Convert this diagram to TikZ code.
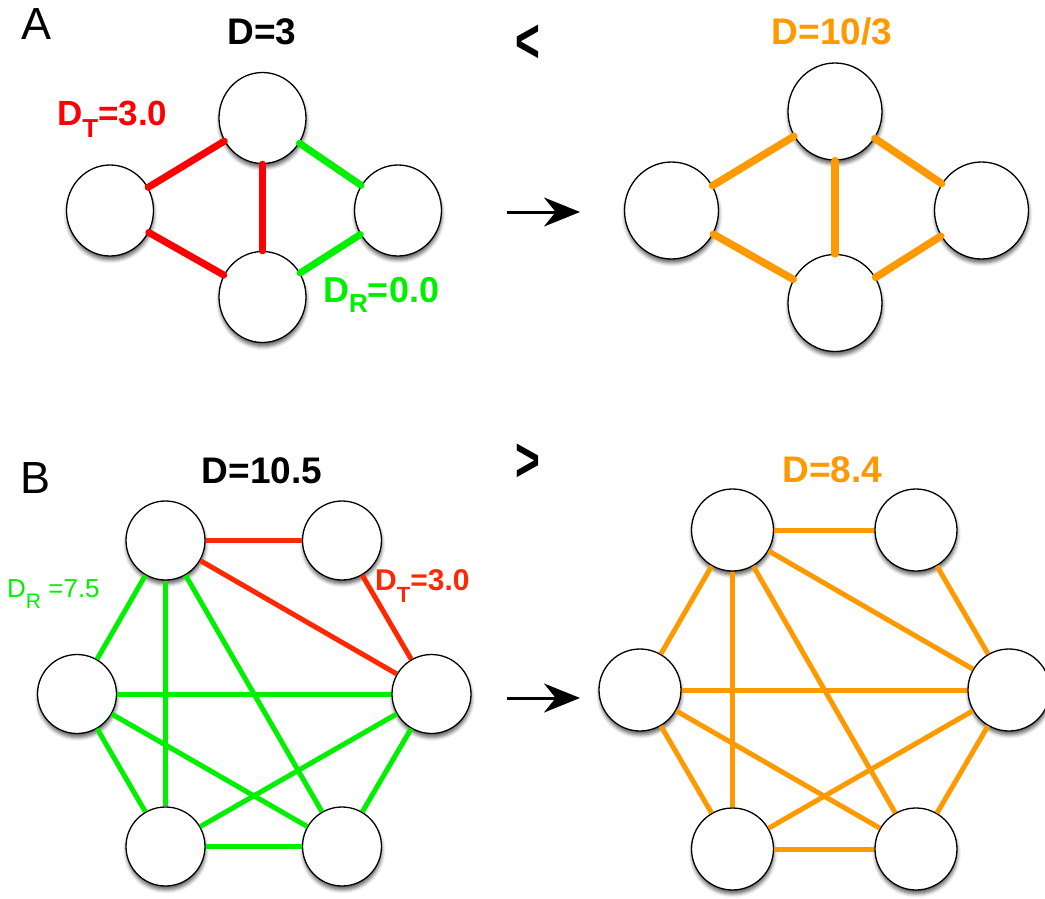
\documentclass[tikz,border=0pt]{standalone}
\usepackage{fontspec}
\setmainfont{Liberation Sans}
\usetikzlibrary{shadows.blur,arrows.meta,shapes.geometric}
\definecolor{ared}{HTML}{FF0000}
\definecolor{bred}{HTML}{FF2800}
\definecolor{lgreen}{HTML}{00F000}
\definecolor{gorange}{HTML}{FF9900}
\newcommand{\fsz}[1]{\fontsize{#1}{#1}\selectfont}
\newcommand{\subl}[3]{\raisebox{-#2pt}{\fsz{#3}#1}}
\begin{document}
\begin{tikzpicture}[x=1pt,y=-1pt,
  vert/.style={ellipse,draw=black,line width=1.3pt,fill=white,inner sep=0pt,
    blur shadow={shadow xshift=0.5pt,shadow yshift=-4pt,shadow blur radius=3.5pt,shadow opacity=60}},
  vertA/.style={vert,minimum width=87pt,minimum height=91pt},
  vertAr/.style={vert,minimum width=94pt,minimum height=97pt},
  vertBl/.style={vert,minimum width=79pt,minimum height=79pt},
  vertBr/.style={vert,minimum width=82pt,minimum height=82pt},
  edgeA/.style={line width=7pt,line cap=round},
  edgeAr/.style={line width=7.5pt,line cap=round,draw=gorange},
  edgeB/.style={line width=5pt},
  panel/.style={anchor=base west,inner sep=0pt,font=\fsz{45}},
  head/.style={anchor=base,inner sep=0pt,font=\fsz{37}\bfseries},
  cmp/.style={inner sep=0pt,font=\fsz{50}\bfseries},
  lab/.style={anchor=base west,inner sep=0pt},
  trans/.style={line width=3pt,-{Stealth[length=36pt,width=29pt]}}
]
\useasboundingbox (0,0) rectangle (1045,899);

% ---------- Panel A, left ----------
\node[vertA] (at) at (262.5,118) {};
\node[vertA] (al) at (110,210.5) {};
\node[vertA] (ab) at (262.5,297) {};
\node[vertA] (ar) at (398,210.5) {};
\draw[edgeA,draw=ared] (al) -- (at);
\draw[edgeA,draw=ared] (al) -- (ab);
\draw[edgeA,draw=ared] (at) -- (ab);
\draw[edgeA,draw=lgreen] (at) -- (ar);
\draw[edgeA,draw=lgreen] (ab) -- (ar);

% ---------- Panel A, right ----------
\node[vertAr] (bt) at (835,111.5) {};
\node[vertAr] (bl) at (671.5,210.5) {};
\node[vertAr] (bb) at (835,303) {};
\node[vertAr] (br) at (981.5,210.5) {};
\draw[edgeAr] (bl) -- (bt);
\draw[edgeAr] (bl) -- (bb);
\draw[edgeAr] (bt) -- (bb);
\draw[edgeAr] (bt) -- (br);
\draw[edgeAr] (bb) -- (br);

% ---------- Panel B, left ----------
\node[vertBl] (c1) at (165.5,540.5) {};
\node[vertBl] (c2) at (342,540.5) {};
\node[vertBl] (c3) at (431.5,694) {};
\node[vertBl] (c4) at (342,846.5) {};
\node[vertBl] (c5) at (165.5,846.5) {};
\node[vertBl] (c6) at (77,694) {};
\draw[edgeB,draw=bred] (c1) -- (c2);
\draw[edgeB,draw=bred] (c1) -- (c3);
\draw[edgeB,draw=bred] (c2) -- (c3);
\draw[edgeB,draw=lgreen] (c1) -- (c6);
\draw[edgeB,draw=lgreen] (c1) -- (c5);
\draw[edgeB,draw=lgreen] (c1) -- (c4);
\draw[edgeB,draw=lgreen] (c6) -- (c3);
\draw[edgeB,draw=lgreen] (c6) -- (c4);
\draw[edgeB,draw=lgreen] (c6) -- (c5);
\draw[edgeB,draw=lgreen] (c5) -- (c3);
\draw[edgeB,draw=lgreen] (c5) -- (c4);
\draw[edgeB,draw=lgreen] (c4) -- (c3);

% ---------- Panel B, right ----------
\node[vertBr] (d1) at (732.5,530) {};
\node[vertBr] (d2) at (916,530) {};
\node[vertBr] (d3) at (1009,690) {};
\node[vertBr] (d4) at (916,849) {};
\node[vertBr] (d5) at (732.5,849) {};
\node[vertBr] (d6) at (640,690) {};
\foreach \u/\v in {d1/d2,d1/d3,d1/d6,d1/d5,d1/d4,d2/d3,d6/d3,d6/d4,d6/d5,d5/d3,d5/d4,d4/d3}
  \draw[edgeB,draw=gorange] (\u) -- (\v);

% ---------- Transitions ----------
\coordinate (ta1) at (507,212);
\coordinate (ta2) at (580,212);
\draw[trans] (ta1) -- (ta2);
\coordinate (tb1) at (507,698);
\coordinate (tb2) at (580,698);
\draw[trans] (tb1) -- (tb2);
\node[cmp] (lt) at (528,44) {\scalebox{0.85}[1.25]{<}};
\node[cmp] (gt) at (528,463) {\scalebox{0.85}[1.25]{>}};

% ---------- Labels ----------
\node[panel] (pa) at (21,40) {A};
\node[panel] (pb) at (20,493) {B};
\node[head] (ha) at (262,45) {D=3};
\node[head,text=gorange] (har) at (832,45) {D=10/3};
\node[head] (hb) at (262,483) {D=10.5};
\node[head,text=gorange] (hbr) at (832.5,482) {D=8.4};
\node[lab,text=ared,font=\fsz{35}\bfseries] (dta) at (57,125) {D\subl{T}{12}{26}=3.0};
\node[lab,text=lgreen,font=\fsz{36}\bfseries] (dra) at (323,302) {D\subl{R}{10}{26}=0.0};
\node[lab,text=lgreen,font=\fsz{26}] (drb) at (7,597) {D\subl{R}{11}{21} =7.5};
\node[lab,text=bred,font=\fsz{30}\bfseries] (dtb) at (375,590) {D\subl{T}{12}{22}=3.0};
\end{tikzpicture}
\end{document}
